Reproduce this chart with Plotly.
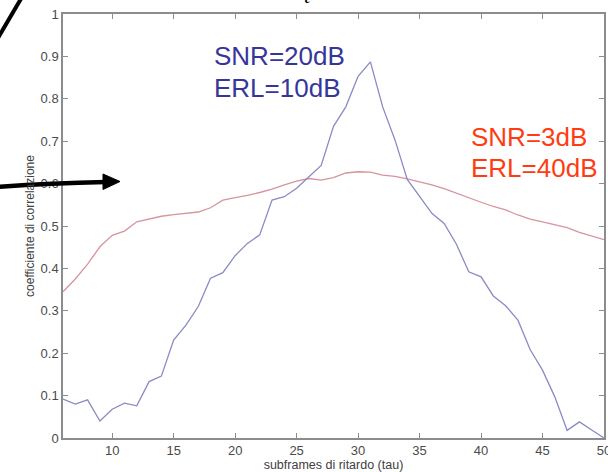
import plotly.graph_objects as go

tau = list(range(6, 51))
corr_snr20 = [0.092, 0.080, 0.090, 0.040, 0.068, 0.082, 0.076, 0.133, 0.146, 0.231,
              0.266, 0.310, 0.377, 0.390, 0.430, 0.459, 0.479, 0.561, 0.569, 0.589,
              0.616, 0.643, 0.735, 0.781, 0.853, 0.887, 0.781, 0.703, 0.610, 0.570,
              0.530, 0.506, 0.457, 0.392, 0.380, 0.335, 0.312, 0.278, 0.208, 0.160,
              0.097, 0.018, 0.038, 0.019, 0.000]
corr_snr3 = [0.345, 0.375, 0.410, 0.451, 0.478, 0.488, 0.510, 0.517, 0.523, 0.527,
             0.530, 0.533, 0.543, 0.561, 0.567, 0.572, 0.579, 0.587, 0.597, 0.606,
             0.612, 0.608, 0.614, 0.625, 0.628, 0.627, 0.620, 0.617, 0.611, 0.604,
             0.597, 0.588, 0.577, 0.566, 0.556, 0.546, 0.538, 0.526, 0.516, 0.510,
             0.503, 0.496, 0.485, 0.477, 0.468]
x_ticks = [10, 15, 20, 25, 30, 35, 40, 45, 50]
y_ticks = [0, 0.1, 0.2, 0.3, 0.4, 0.5, 0.6, 0.7, 0.8, 0.9, 1]

W, H = 608, 472
L, R, T, B = 63, 4, 14, 34
PW, PH = W - L - R, H - T - B


def px(x):
    return (x - L) / PW


def py(y):
    return (H - B - y) / PH


fig = go.Figure()
fig.add_trace(go.Scatter(x=tau, y=corr_snr3, mode="lines",
                         line=dict(color="#d8939e", width=1.3), showlegend=False))
fig.add_trace(go.Scatter(x=tau, y=corr_snr20, mode="lines",
                         line=dict(color="#8a8ac6", width=1.3), showlegend=False))

axis_common = dict(showline=True, linecolor="#8c8c8c", linewidth=1.5, mirror="ticks",
                   ticks="inside", ticklen=5, tickcolor="#8c8c8c", showgrid=False,
                   zeroline=False, automargin=False, ticklabeloverflow="allow",
                   tickfont=dict(family="Liberation Sans", size=13, color="#4a4a4a"))

fig.update_xaxes(range=[6, 50], tickvals=x_ticks,
                 title=dict(text="subframes di ritardo (tau)", standoff=1,
                            font=dict(family="Liberation Sans", size=12.5, color="#404040")),
                 **axis_common)
fig.update_yaxes(range=[0, 1], tickvals=y_ticks,
                 title=dict(text="coefficiente di correlazione", standoff=3,
                            font=dict(family="Liberation Sans", size=12, color="#404040")),
                 **axis_common)

anns = [
    dict(x=18.15, y=0.901, text="SNR=20dB", color="#35359a"),
    dict(x=18.15, y=0.825, text="ERL=10dB", color="#35359a"),
    dict(x=39.0, y=0.709, text="SNR=3dB", color="#ff3b12"),
    dict(x=39.0, y=0.637, text="ERL=40dB", color="#ff3b12"),
]
for a in anns:
    fig.add_annotation(x=a["x"], y=a["y"], xref="x", yref="y", text=a["text"],
                       showarrow=False, xanchor="left", yanchor="middle",
                       font=dict(family="Liberation Sans", size=26, color=a["color"]))

# decorative elements outside the plot (slide overlay)
fig.add_shape(type="path", xref="paper", yref="paper",
              path=f"M {px(-2)},{py(187)} Q {px(50)},{py(183)} {px(106)},{py(182)}",
              line=dict(color="black", width=4.5))
fig.add_shape(type="path", xref="paper", yref="paper",
              path=f"M {px(103)},{py(174)} L {px(120)},{py(181.5)} L {px(103)},{py(189.5)} Z",
              line=dict(color="black", width=1), fillcolor="black")
fig.add_shape(type="line", xref="paper", yref="paper",
              x0=px(-2), y0=py(38), x1=px(22), y1=py(-3),
              line=dict(color="black", width=4))
fig.add_annotation(x=px(307), y=py(-5), xref="paper", yref="paper", text="<i>t</i>",
                   showarrow=False, xanchor="center", yanchor="middle",
                   font=dict(family="Liberation Serif", size=22, color="black"))

fig.update_layout(width=W, height=H, margin=dict(l=L, r=R, t=T, b=B),
                  paper_bgcolor="white", plot_bgcolor="white")

fig.write_html("out.html", config={"displayModeBar": False},
               post_script="document.body.style.margin='0';document.body.style.overflow='hidden';")
